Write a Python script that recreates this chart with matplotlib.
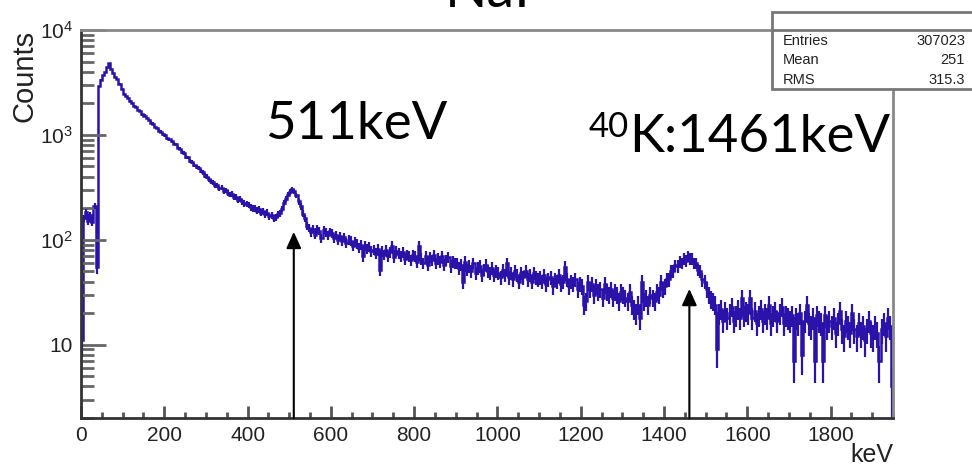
import numpy as np
import matplotlib
matplotlib.use("Agg")
import matplotlib.pyplot as plt
from matplotlib.patches import Rectangle
from matplotlib.lines import Line2D
from matplotlib.ticker import FixedLocator, MultipleLocator, LogLocator, NullFormatter

plt.rcParams['font.family'] = ['Liberation Sans', 'DejaVu Sans']

# NaI spectrum, 5 keV bins from 0 to 1950 keV
bin_width = 5
e_max = 1950
counts = [
    # 0-100 keV
    11, 160, 185, 150, 172, 148, 210, 55, 2900, 3350, 3700, 3950, 4400, 4800, 4250, 3900, 3550, 3380, 3050, 2750,
    # 100-200
    2480, 2330, 2250, 2100, 2030, 1900, 1850, 1720, 1680, 1570, 1530, 1440, 1390, 1310, 1280, 1190, 1160, 1100, 1070, 1010,
    # 200-300
    990, 925, 905, 870, 825, 810, 755, 740, 690, 670, 620, 610, 560, 555, 520, 490, 480, 450, 440, 410,
    # 300-400
    400, 378, 360, 355, 332, 330, 310, 315, 292, 296, 280, 270, 275, 255, 258, 240, 246, 232, 222, 220,
    # 400-500
    215, 204, 200, 199, 190, 196, 182, 188, 175, 182, 168, 172, 160, 165, 175, 180, 198, 226, 244, 270,
    # 500-600
    285, 302, 290, 265, 232, 208, 178, 160, 136, 130, 118, 128, 112, 126, 122, 104, 124, 118, 110, 120,
    # 600-700
    115, 104, 112, 100, 108, 97, 106, 94, 100, 98, 88, 96, 92, 84, 90, 70, 88, 82, 86, 78,
    # 700-800
    80, 74, 82, 52, 78, 72, 80, 70, 76, 88, 68, 78, 74, 70, 76, 66, 72, 70, 64, 72,
    # 800-900
    70, 62, 88, 66, 60, 70, 58, 68, 64, 72, 60, 66, 62, 70, 58, 64, 68, 56, 62, 60,
    # 900-1000
    60, 54, 58, 40, 62, 52, 56, 50, 60, 48, 54, 56, 46, 52, 58, 50, 48, 54, 46, 50,
    # 1000-1100
    48, 44, 52, 46, 60, 44, 48, 42, 50, 46, 40, 48, 44, 50, 42, 46, 40, 48, 44, 42,
    # 1100-1200
    44, 40, 46, 38, 42, 44, 36, 42, 40, 46, 38, 40, 55, 42, 36, 40, 38, 42, 34, 38,
    # 1200-1300
    36, 24, 26, 40, 34, 38, 30, 36, 32, 34, 28, 38, 32, 30, 34, 28, 32, 30, 26, 32,
    # 1300-1400
    30, 28, 26, 32, 24, 22, 20, 24, 18, 40, 26, 28, 24, 30, 28, 26, 32, 30, 40, 34,
    # 1400-1500
    36, 42, 42, 50, 50, 57, 56, 62, 60, 66, 63, 70, 66, 66, 60, 60, 52, 50, 42, 40,
    # 1500-1600
    34, 30, 27, 26, 24, 9, 20, 22, 17, 21, 18, 20, 23, 17, 19, 22, 18, 28, 19, 21,
    # 1600-1700
    20, 28, 18, 21, 16, 19, 22, 17, 20, 18, 24, 16, 19, 21, 17, 20, 23, 16, 19, 18,
    # 1700-1800
    17, 19, 7, 18, 16, 20, 8, 17, 24, 16, 15, 18, 7, 19, 17, 16, 7, 19, 15, 17,
    # 1800-1950
    15, 18, 13, 16, 21, 14, 12, 17, 15, 13, 20, 14, 12, 16, 13, 15, 11, 14, 17, 13,
    12, 15, 13, 7, 14, 16, 12, 18, 15, 4,
]

stat_names = ['Entries', 'Mean', 'RMS']
stat_values = ['307023', '251', '315.3']

peak_labels = ['511keV', 'K:1461keV']
peak_energies = [511, 1461]
arrow_tops = [119, 34]

xticks = [0, 200, 400, 600, 800, 1000, 1200, 1400, 1600, 1800]
yticks = [10, 100, 1000, 10000]
ytick_labels = ['10', r'$\mathdefault{10^{2}}$', r'$\mathdefault{10^{3}}$', r'$\mathdefault{10^{4}}$']

counts = np.array(counts, dtype=float)
edges = np.arange(0, e_max + bin_width, bin_width)
centers = 0.5 * (edges[:-1] + edges[1:])
err = np.sqrt(counts)

W, H = 972, 468
fig = plt.figure(figsize=(W / 100, H / 100), dpi=100)
ax = fig.add_axes([81 / W, 1 - 418 / H, (893 - 81) / W, (418 - 30) / H])

hist_color = '#2b12a8'
ax.stairs(counts, edges, baseline=None, color=hist_color, lw=1.8)
ax.vlines(centers, np.maximum(counts - err, 1.5), counts + err, color=hist_color, lw=1.6)

ax.set_yscale('log')
ax.set_xlim(0, e_max)
ax.set_ylim(2, 10000)

# axis frame: dark axes, grey frame
for side in ['left', 'bottom']:
    ax.spines[side].set_color('#333333')
    ax.spines[side].set_linewidth(2)
for side in ['top', 'right']:
    ax.spines[side].set_color('#888888')
    ax.spines[side].set_linewidth(2)

ax.yaxis.set_major_locator(FixedLocator(yticks))
ax.set_yticklabels(ytick_labels)
ax.yaxis.set_minor_locator(LogLocator(base=10, subs=np.arange(2, 10)))
ax.yaxis.set_minor_formatter(NullFormatter())
ax.xaxis.set_major_locator(FixedLocator(xticks))
ax.set_xticklabels([str(t) for t in xticks])
ax.xaxis.set_minor_locator(MultipleLocator(50))

ax.tick_params(axis='y', which='major', direction='in', length=18, width=2,
               color='#666666', labelsize=15, pad=6, right=False)
ax.tick_params(axis='y', which='minor', direction='in', length=9, width=2,
               color='#666666', right=False)
ax.tick_params(axis='x', which='major', direction='in', length=9, width=2,
               color='#555555', labelsize=15, pad=6, top=False)
ax.tick_params(axis='x', which='minor', direction='in', length=4, width=2,
               color='#555555', top=False)
for lab in ax.get_xticklabels() + ax.get_yticklabels():
    lab.set_color('#222222')

# arrows marking the peaks
for e, top in zip(peak_energies, arrow_tops):
    ax.annotate('', xy=(e, top), xytext=(e, 2),
                arrowprops=dict(arrowstyle='-|>,head_length=0.55,head_width=0.25',
                                color='black', lw=1.5, mutation_scale=18,
                                shrinkA=0, shrinkB=0))

# axis titles
fig.text(24 / W, 1 - 30 / H, 'Counts', rotation=90, ha='center', va='top',
         fontsize=21, color='#222222')
fig.text(893 / W, 1 - 462 / H, 'keV', ha='right', va='baseline',
         fontsize=18, color='#222222')

# large labels
fig.text(488 / W, 1 - 7 / H, 'NaI', ha='center', va='baseline',
         fontsize=40, family='Lato')
fig.text(265 / W, 1 - 139 / H, peak_labels[0], ha='left', va='baseline',
         fontsize=38, family='Lato')
k_label = fig.text(890 / W, 1 - 152 / H, peak_labels[1], ha='right', va='baseline',
                   fontsize=38, family='Lato')
fig.canvas.draw()
k_left = k_label.get_window_extent().x0
fig.text(k_left / W, 1 - 137 / H, '40', ha='right', va='baseline',
         fontsize=25, family='Lato')

# statistics box
box = Rectangle((772 / W, 1 - 89 / H), 230 / W, (89 - 12) / H,
                transform=fig.transFigure, facecolor='white',
                edgecolor='#777777', lw=2, zorder=5)
fig.add_artist(box)
fig.add_artist(Line2D([772 / W, 1.0], [1 - 30 / H, 1 - 30 / H],
                      transform=fig.transFigure, color='#777777', lw=2, zorder=6))
row_y = [41, 60.5, 79.5]
for name, val, y in zip(stat_names, stat_values, row_y):
    fig.text(783 / W, 1 - y / H, name, ha='left', va='center', fontsize=10.5,
             color='#222222', zorder=7)
    fig.text(965 / W, 1 - y / H, val, ha='right', va='center', fontsize=10.5,
             color='#222222', zorder=7)

fig.savefig('out.png', dpi=100)
